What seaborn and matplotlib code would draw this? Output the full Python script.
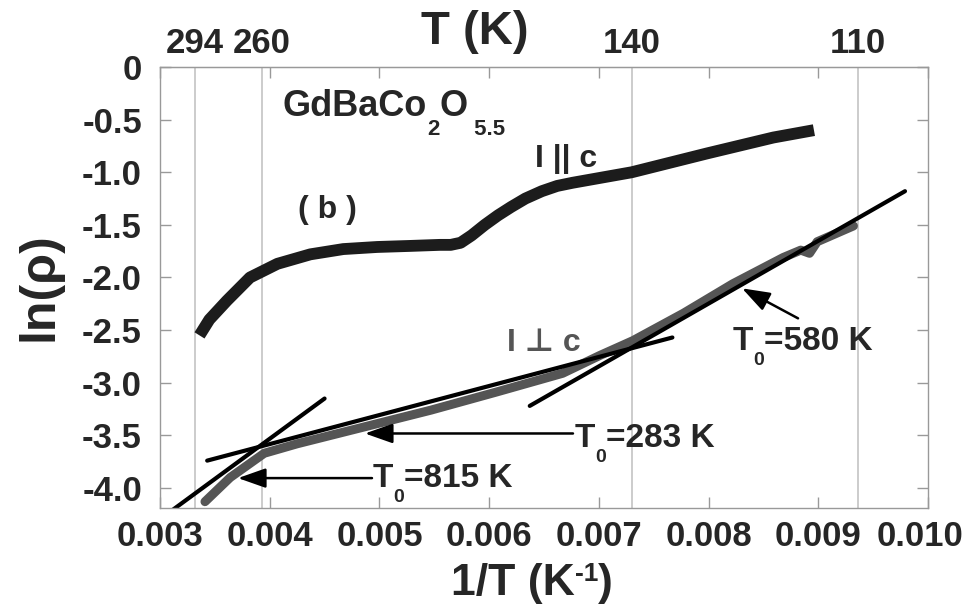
import matplotlib
matplotlib.use("Agg")
import pandas as pd
import matplotlib.pyplot as plt
import matplotlib.transforms as mtrans
import seaborn as sns

# I || c curve
par_x = [0.00336, 0.00345, 0.00361, 0.00382, 0.00407, 0.00437, 0.00467, 0.00498,
         0.00528, 0.00555, 0.00565, 0.00574, 0.00584, 0.00596, 0.00608, 0.00620,
         0.00633, 0.00648, 0.00662, 0.00676, 0.00730, 0.00799, 0.00859, 0.00896]
par_y = [-2.55, -2.40, -2.22, -2.00, -1.87, -1.78, -1.73, -1.71,
         -1.70, -1.69, -1.69, -1.67, -1.60, -1.50, -1.41, -1.33,
         -1.25, -1.18, -1.13, -1.10, -1.00, -0.82, -0.67, -0.60]

# I perp c curve
perp_x = [0.00341, 0.00364, 0.00395, 0.00425, 0.00486, 0.00547, 0.00606, 0.00667,
          0.00701, 0.00731, 0.00777, 0.00822, 0.00868, 0.00884, 0.00892, 0.00899,
          0.00932]
perp_y = [-4.13, -3.90, -3.67, -3.58, -3.42, -3.26, -3.09, -2.91,
          -2.74, -2.60, -2.34, -2.06, -1.81, -1.74, -1.77, -1.66,
          -1.51]

# linear fits
fit815_x = [0.00310, 0.00450]
fit815_y = [-4.22, -3.15]
fit283_x = [0.00343, 0.00767]
fit283_y = [-3.74, -2.57]
fit580_x = [0.00637, 0.00979]
fit580_y = [-3.22, -1.18]

xticks = [0.003, 0.004, 0.005, 0.006, 0.007, 0.008, 0.009, 0.010]
xtick_labels = ["0.003", "0.004", "0.005", "0.006", "0.007", "0.008", "0.009", "0.010"]
yticks = [0, -0.5, -1.0, -1.5, -2.0, -2.5, -3.0, -3.5, -4.0]
ytick_labels = ["0", "-0.5", "-1.0", "-1.5", "-2.0", "-2.5", "-3.0", "-3.5", "-4.0"]
top_pos = [0.003319, 0.003930, 0.007302, 0.009362]
top_labels = ["294", "260", "140", "110"]

sns.set_style("ticks")
plt.rcParams["font.family"] = ["Liberation Sans", "DejaVu Sans"]
plt.rcParams["font.weight"] = "bold"

fig = plt.figure(figsize=(9.65, 6.13), dpi=100)
ax = fig.add_axes([0.1658, 0.1713, 0.7959, 0.7194])
renderer = fig.canvas.get_renderer()


def chain(x, y, parts, transform=None, **kw):
    # draw text pieces one after another; parts = (text, size, shift in px)
    if transform is not None:
        x, y = transform.transform((x, y))
    for s, size, dy in parts:
        t = fig.text(x, y + dy, s, transform=mtrans.IdentityTransform(),
                     fontsize=size, ha="left", va="baseline", **kw)
        x = t.get_window_extent(renderer).x1
    return x


for p in top_pos:
    ax.axvline(p, color="#c4c4c4", lw=1.2, zorder=0)

df_par = pd.DataFrame({"x": par_x, "y": par_y})
df_perp = pd.DataFrame({"x": perp_x, "y": perp_y})
sns.lineplot(data=df_par, x="x", y="y", ax=ax, color="#1c1c1c", lw=8.5,
             estimator=None, sort=False, solid_capstyle="butt")
sns.lineplot(data=df_perp, x="x", y="y", ax=ax, color="#555555", lw=6.5,
             estimator=None, sort=False, solid_capstyle="round")
for fx, fy in [(fit815_x, fit815_y), (fit283_x, fit283_y), (fit580_x, fit580_y)]:
    sns.lineplot(x=fx, y=fy, ax=ax, color="black", lw=3,
                 estimator=None, sort=False, solid_capstyle="round")

ax.set_xlim(0.003, 0.010)
ax.set_ylim(-4.19, 0)
ax.set_xticks(xticks, labels=xtick_labels)
ax.set_yticks(yticks, labels=ytick_labels)
ax.tick_params(direction="in", top=True, right=True, length=8, width=1,
               color="#999999", labelsize=25)
ax.tick_params(axis="x", pad=9)
ax.tick_params(axis="y", pad=13)
for s in ax.spines.values():
    s.set_visible(True)
    s.set_color("#999999")
    s.set_linewidth(1)
ax.set_xlabel("")
ax.set_ylabel("")
last = ax.get_xticklabels()[-1]
last.set_transform(last.get_transform()
                   + mtrans.ScaledTranslation(-8 / 100, 0, fig.dpi_scale_trans))

sec = ax.secondary_xaxis("top")
sec.set_xticks(top_pos, labels=top_labels)
sec.tick_params(length=0, labelsize=25, pad=5)
sec.spines["top"].set_color("#999999")

# arrows
arrow = dict(arrowstyle="-|>,head_length=1.7,head_width=0.6", color="black",
             lw=1.8, shrinkA=0, shrinkB=0)
ax.annotate("", xy=(0.003711, -3.906), xytext=(0.004932, -3.906), arrowprops=arrow)
ax.annotate("", xy=(0.004868, -3.482), xytext=(0.006764, -3.482), arrowprops=arrow)
ax.annotate("", xy=(0.008305, -2.103), xytext=(0.008815, -2.388), arrowprops=arrow)

t0 = lambda v: [("T", 24, 0), ("0", 14, -15), ("=" + v + " K", 24, 0)]
chain(0.00494, -3.99, t0("815"), transform=ax.transData)
chain(0.00678, -3.61, t0("283"), transform=ax.transData)
chain(0.008223, -2.69, t0("580"), transform=ax.transData)

chain(0.00412, -0.462, [("GdBaCo", 26, 0), ("2", 16, -19), ("O", 26, 0), (" 5.5", 16, -19)],
      transform=ax.transData)
ax.text(0.004522, -1.363, "( b )", fontsize=23, ha="center", va="center")
ax.text(0.006418, -0.87, "I || c", fontsize=23, ha="left", va="center")
ax.text(0.006163, -2.625, "I \u22a5 c", fontsize=23, ha="left", va="center",
        color="#555555")

# x label, baseline about 595 px from the top
chain(451, 613 - 595, [("1/T (K", 32, 0), ("-1", 19, 14), (")", 32, 0)])
fig.text(39 / 965, 1 - 287 / 613, "ln(\u03c1)", fontsize=36, ha="center", va="center",
         rotation=90)
fig.text(475 / 965, 1 - 32 / 613, "T (K)", fontsize=34, ha="center", va="center")

fig.savefig("out.png", dpi=100)
